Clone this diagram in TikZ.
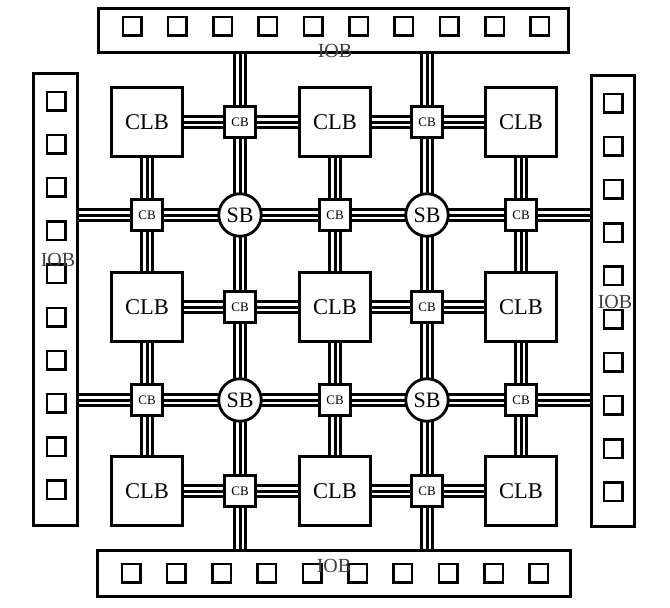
\documentclass[tikz,border=0pt]{standalone}
\usepackage{fontspec}
\setmainfont{Liberation Serif}
\pgfdeclarelayer{bg}
\pgfsetlayers{bg,main}
\begin{document}
\begin{tikzpicture}[x=1pt,y=-1pt,
 box/.style={draw,line width=2.8pt,fill=white,inner sep=0pt},
 clb/.style={box,minimum width=70.5pt,minimum height=68.5pt,font=\fontsize{22.5}{22.5}\selectfont},
 cbx/.style={box,minimum size=30.5pt,font=\fontsize{13}{13}\selectfont},
 sbx/.style={box,circle,minimum size=42.5pt,font=\fontsize{22}{22}\selectfont},
 iob/.style={box},
 pad/.style={draw,line width=2.5pt,minimum size=18.5pt,inner sep=0pt},
 lbl/.style={font=\fontsize{20}{20}\selectfont,text=black!75,inner sep=0pt},
 wire/.style={preaction={draw=black,line width=13.5pt},draw=white,line width=8pt,postaction={draw=black,line width=3pt}},
]
\useasboundingbox (0,0) rectangle (670,608);

% IOB frames
\node[iob,minimum width=470.5pt,minimum height=44.5pt] (tiob) at (333.5,30.5) {};
\node[iob,minimum width=473.5pt,minimum height=46.5pt] (biob) at (334,573.5) {};
\node[iob,minimum width=44.5pt,minimum height=452.5pt] (liob) at (55.5,299.5) {};
\node[iob,minimum width=43.5pt,minimum height=451.5pt] (riob) at (613,301) {};

% pads
\foreach \k in {0,...,9} {
  \node[pad] (tp\k) at ({132+45.33*\k},26) {};
  \node[pad] (bp\k) at ({131+45.33*\k},573) {};
  \node[pad] (lp\k) at (56,{101+43.2*\k}) {};
  \node[pad] (rp\k) at (613,{103+43.2*\k}) {};
}

% logic blocks
\foreach \x [count=\j] in {147,335,521}
  \foreach \y [count=\i] in {122,307,491}
    \node[clb] (clb\i\j) at (\x,\y) {CLB};
\foreach \x [count=\j] in {240,427}
  \foreach \y [count=\i] in {122,307,491}
    \node[cbx] (cbr\i\j) at (\x,\y) {CB};
\foreach \x [count=\j] in {147,335,521}
  \foreach \y [count=\i] in {215,400}
    \node[cbx] (cbh\i\j) at (\x,\y) {CB};
\foreach \x [count=\j] in {240,427}
  \foreach \y [count=\i] in {215,400}
    \node[sbx] (sb\i\j) at (\x,\y) {SB};

% labels
\node[lbl] (tl) at (335,51) {IOB};
\node[lbl] (bl) at (334,566) {IOB};
\node[lbl] (ll) at (58,260) {IOB};
\node[lbl] (rl) at (615,302) {IOB};

% wires
\begin{pgfonlayer}{bg}
\foreach \i in {1,2,3}
  \draw[wire] (clb\i1.center) -- (cbr\i1.center) -- (clb\i2.center) -- (cbr\i2.center) -- (clb\i3.center);
\foreach \i in {1,2}
  \draw[wire] (cbh\i1 -| liob.east) -- (cbh\i1.center) -- (sb\i1.center) -- (cbh\i2.center) -- (sb\i2.center) -- (cbh\i3.center) -- (cbh\i3 -| riob.west);
\foreach \j in {1,2,3}
  \draw[wire] (clb1\j.center) -- (cbh1\j.center) -- (clb2\j.center) -- (cbh2\j.center) -- (clb3\j.center);
\foreach \j in {1,2}
  \draw[wire] (cbr1\j |- tiob.south) -- (cbr1\j.center) -- (sb1\j.center) -- (cbr2\j.center) -- (sb2\j.center) -- (cbr3\j.center) -- (cbr3\j |- biob.north);
\end{pgfonlayer}
\end{tikzpicture}
\end{document}
